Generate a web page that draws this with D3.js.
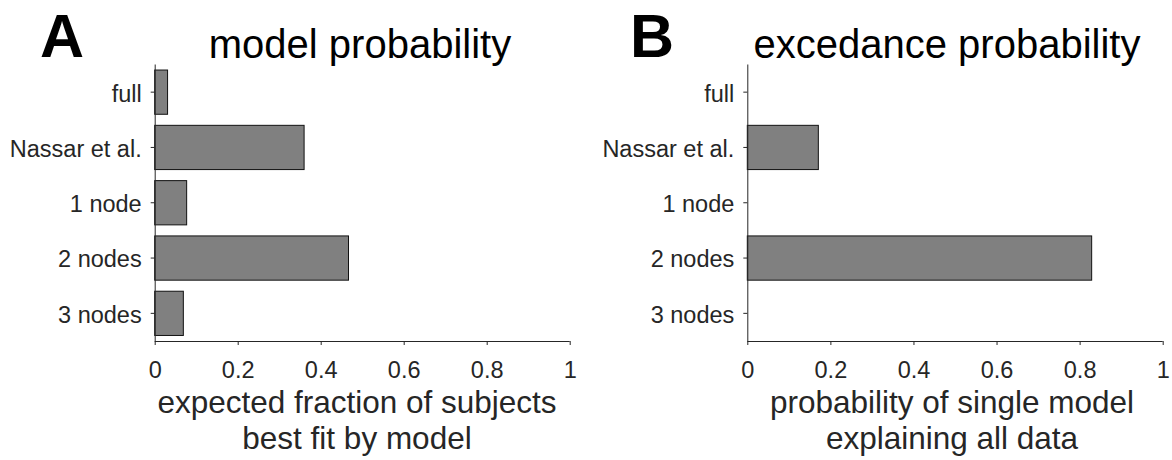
<!DOCTYPE html>
<html>
<head>
<meta charset="utf-8">
<script src="https://cdn.jsdelivr.net/npm/d3@7"></script>
<style>
  html, body { margin: 0; padding: 0; background: #fff; }
  svg { display: block; font-family: "Liberation Sans", Arial, Helvetica, sans-serif; }
</style>
</head>
<body>
<svg id="fig" width="1172" height="460"></svg>
<script>
// Candidate models, top to bottom
const categories = ["full", "Nassar et al.", "1 node", "2 nodes", "3 nodes"];
// Expected fraction of subjects best fit by each model
const modelProbability = [0.031, 0.360, 0.077, 0.467, 0.069];
// Exceedance probability of each model
const exceedanceProbability = [0, 0.171, 0, 0.829, 0];
// Shared x-axis ticks
const xTicks = [0, 0.2, 0.4, 0.6, 0.8, 1];
const xTickLabels = ["0", "0.2", "0.4", "0.6", "0.8", "1"];

const panels = [
  { letter: "A", title: "model probability", values: modelProbability,
    xlabel: ["expected fraction of subjects", "best fit by model"],
    left: 154.7, right: 569.7, letterX: 40, titleX: 360, labelX: 357 },
  { letter: "B", title: "excedance probability", values: exceedanceProbability,
    xlabel: ["probability of single model", "explaining all data"],
    left: 747.3, right: 1162.7, letterX: 630, titleX: 947, labelX: 952 }
];

const plotTop = 64.5, plotBottom = 341;
const axisColor = "#262626";
const svg = d3.select("#fig");

panels.forEach(p => {
  const g = svg.append("g");

  const x = d3.scaleLinear().domain([0, 1]).range([p.left, p.right]);
  const y = d3.scaleBand().domain(categories).range([plotTop, plotBottom])
    .paddingInner(0.2).paddingOuter(0.1);

  // bars
  g.append("g").selectAll("rect")
    .data(categories.map((c, i) => ({ c, v: p.values[i] })))
    .join("rect")
    .attr("x", x(0))
    .attr("y", d => y(d.c))
    .attr("width", d => x(d.v) - x(0))
    .attr("height", y.bandwidth())
    .attr("fill", "#808080")
    .attr("stroke", "#111")
    .attr("stroke-width", 1);

  // x axis
  const xAxis = g.append("g")
    .attr("transform", `translate(0,${plotBottom})`)
    .call(d3.axisBottom(x).tickValues(xTicks)
      .tickFormat((d, i) => xTickLabels[i])
      .tickSize(4).tickSizeOuter(0).tickPadding(16));

  // y axis
  const yAxis = g.append("g")
    .attr("transform", `translate(${p.left},0)`)
    .call(d3.axisLeft(y).tickSize(4).tickSizeOuter(0).tickPadding(9));

  [xAxis, yAxis].forEach(a => {
    a.select(".domain").attr("stroke", axisColor).attr("stroke-width", 1);
    a.selectAll(".tick line").attr("stroke", axisColor);
    a.selectAll(".tick text").attr("fill", axisColor)
      .attr("font-size", 23.5).attr("font-family", "Liberation Sans, Arial, sans-serif");
  });
  // axis baselines drawn as plain segments (no end caps)
  xAxis.select(".domain").attr("d", `M${p.left},0.5H${p.right}`).attr("fill", "none");
  yAxis.select(".domain").attr("d", `M0.5,${plotTop}V${plotBottom}`).attr("fill", "none");
  yAxis.selectAll(".tick text").attr("dy", "0.4em");

  // axis title (two lines)
  g.append("text")
    .attr("x", p.labelX).attr("y", 412.5)
    .attr("text-anchor", "middle")
    .attr("font-size", 31.5).attr("fill", axisColor)
    .selectAll("tspan").data(p.xlabel).join("tspan")
    .attr("x", p.labelX)
    .attr("dy", (d, i) => i === 0 ? 0 : 36)
    .text(d => d);

  // panel title
  g.append("text")
    .attr("x", p.titleX).attr("y", 58)
    .attr("text-anchor", "middle")
    .attr("font-size", 40).attr("fill", "#000")
    .text(p.title);

  // panel letter
  g.append("text")
    .attr("x", p.letterX).attr("y", 57)
    .attr("font-size", 61).attr("font-weight", "bold").attr("fill", "#000")
    .text(p.letter);
});
</script>
</body>
</html>
